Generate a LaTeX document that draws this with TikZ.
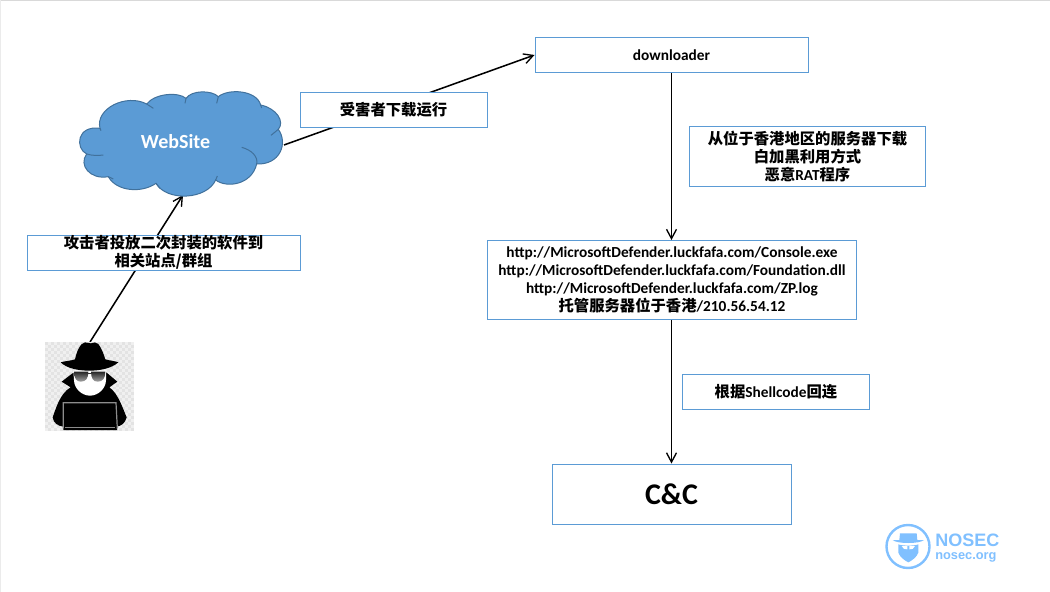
\documentclass[tikz,border=0pt]{standalone}
\usepackage{fontspec}
\setmainfont{Carlito}
\newfontfamily\cjk{Noto Sans CJK SC}
\newfontfamily\logofont{Liberation Sans}
\newcommand{\zh}[1]{{\cjk\bfseries #1}}
\definecolor{boxblue}{HTML}{5B9BD5}
\definecolor{cloudedge}{HTML}{41719C}
\definecolor{logoblue}{HTML}{80C0FF}
\tikzset{
  x=0.75pt,y=-0.75pt,
  lab/.style={draw=boxblue,line width=0.75pt,fill=white,inner sep=0pt,align=center,font=\fontsize{11.5pt}{13.5pt}\selectfont\bfseries},
  conn/.style={draw=black,line width=1.15pt,-{Straight Barb[length=7pt,width=7.5pt,line width=1pt]}},
  chk/.style={fill=black!11,draw=none}
}
\usetikzlibrary{arrows.meta}
\begin{document}
\begin{tikzpicture}
\useasboundingbox (0,0) rectangle (1050,592);
\fill[white] (0,0) rectangle (1050,592);
\draw[black!15,line width=1pt] (0,0.5) -- (1050,0.5);
\draw[black!8,line width=0.75pt] (0.5,0) -- (0.5,592);

% named anchors of connectors
\coordinate (hackertop) at (90,342);
\coordinate (cloudbottom) at (183,195);
\coordinate (cloudright) at (284,145);

\node[lab,minimum width=273pt*0.75,minimum height=35pt*0.75] (dl) at (671.5,55) {downloader};
\node[lab,minimum width=369pt*0.75,minimum height=79pt*0.75] (urls) at (672,280) {http://MicrosoftDefender.luckfafa.com/Console.exe\\http://MicrosoftDefender.luckfafa.com/Foundation.dll\\http://MicrosoftDefender.luckfafa.com/ZP.log\\\zh{托管服务器位于香港}/210.56.54.12};
\node[lab,minimum width=239pt*0.75,minimum height=60pt*0.75,font=\fontsize{22.5pt}{24pt}\selectfont\bfseries] (cc) at (671.5,494) {C\&C};

\draw[conn] (cloudright) -- (dl.west);
\draw[conn] (hackertop) -- (cloudbottom);
\draw[conn] (dl.south) -- (dl.south |- urls.north);
\draw[conn] (cc.north |- urls.south) -- (cc.north);

\node[lab,minimum width=273pt*0.75,minimum height=35pt*0.75] (l1) at (163.5,252.5) {\zh{攻击者投放二次封装的软件到}\\\zh{相关站点/群组}};
\node[lab,minimum width=187pt*0.75,minimum height=35pt*0.75] (l2) at (393.5,110) {\zh{受害者下载运行}};
\node[lab,minimum width=236pt*0.75,minimum height=60pt*0.75] (l3) at (807.5,156.5) {\zh{从位于香港地区的服务器下载}\\\zh{白加黑利用方式}\\\zh{恶意}RAT\zh{程序}};
\node[lab,minimum width=187pt*0.75,minimum height=35pt*0.75] (l4) at (776,391.5) {\zh{根据}Shellcode\zh{回连}};

% cloud
\begin{scope}[shift={(70,80)},x=0.25pt,y=-0.25pt]
\path[fill=boxblue,draw=cloudedge,line width=0.75pt] (90,145)
 .. controls (75,85) and (170,40) .. (230,72)
 .. controls (255,40) and (325,35) .. (348,55)
 .. controls (365,30) and (425,30) .. (445,50)
 .. controls (475,25) and (560,30) .. (572,75)
 .. controls (620,85) and (645,125) .. (625,148)
 .. controls (655,190) and (630,255) .. (560,252)
 .. controls (545,315) and (470,325) .. (437,300)
 .. controls (410,360) and (290,365) .. (258,310)
 .. controls (215,340) and (140,335) .. (115,290)
 .. controls (60,300) and (25,255) .. (50,222)
 .. controls (15,205) and (20,135) .. (90,145) -- cycle;
\draw[cloudedge,line width=0.75pt] (50,222) .. controls (65,227) and (85,227) .. (100,225);
\draw[cloudedge,line width=0.75pt] (115,290) -- (130,297);
\draw[cloudedge,line width=0.75pt] (258,310) -- (270,325);
\draw[cloudedge,line width=0.75pt] (437,300) -- (442,288);
\draw[cloudedge,line width=0.75pt] (515,202) .. controls (545,210) and (565,230) .. (560,252);
\draw[cloudedge,line width=0.75pt] (625,148) -- (603,166);
\draw[cloudedge,line width=0.75pt] (572,75) -- (575,84);
\draw[cloudedge,line width=0.75pt] (445,50) -- (440,70);
\draw[cloudedge,line width=0.75pt] (348,55) -- (345,70);
\draw[cloudedge,line width=0.75pt] (230,72) -- (250,85);
\draw[cloudedge,line width=0.75pt] (90,145) -- (93,152);
\end{scope}
\node[font=\fontsize{15pt}{18pt}\selectfont\bfseries,text=white,inner sep=0pt] (web) at (175.5,141.5) {WebSite};

% hacker icon
\fill[black!6] (45,342) rectangle (134,431);
\foreach \i in {0,...,29}{\foreach \j in {0,...,29}{
  \pgfmathparse{int(mod(\i+\j,2))}
  \ifnum\pgfmathresult=0 \fill[chk] ({45+\i*2.967},{342+\j*2.967}) rectangle +(2.967,2.967);\fi
}}
\begin{scope}[shift={(30,330)},x=0.25pt,y=-0.25pt]
 % coat
 \fill[black] (95,155) -- (130,128) -- (230,128) -- (262,155) -- (238,172)
   .. controls (265,190) and (280,240) .. (290,262)
   .. controls (285,280) and (275,288) .. (258,290) -- (262,300) -- (100,300) -- (100,290)
   .. controls (85,288) and (70,280) .. (68,262)
   .. controls (78,235) and (90,190) .. (122,172) -- cycle;
 % face
 \fill[white] (130,122) -- (228,122) -- (228,150)
   .. controls (228,175) and (205,197) .. (180,197)
   .. controls (155,197) and (132,175) .. (132,150) -- cycle;
 % hat
 \fill[black] (92,97) .. controls (110,92) and (125,92) .. (135,88)
   .. controls (140,65) and (150,40) .. (165,37)
   .. controls (175,36) and (178,42) .. (183,40)
   .. controls (190,36) and (200,36) .. (205,42)
   .. controls (215,55) and (222,75) .. (226,88)
   .. controls (240,92) and (255,93) .. (265,97)
   .. controls (245,115) and (210,122) .. (178,122)
   .. controls (145,122) and (110,115) .. (92,97) -- cycle;
 % glasses
 \shade[top color=black!85,bottom color=black!35] (132,125) -- (175,125) .. controls (175,145) and (168,155) .. (152,155) .. controls (140,155) and (132,145) .. (132,125) -- cycle;
 \shade[top color=black!85,bottom color=black!35] (183,125) -- (226,125) .. controls (226,145) and (218,155) .. (203,155) .. controls (190,155) and (183,145) .. (183,125) -- cycle;
 \draw[black!80,line width=1pt] (170,130) -- (188,130);
 % laptop
 \draw[black!45,line width=0.9pt,fill=black] (100,295) -- (100,218) -- (258,218) -- (262,295);
 \fill[black] (108,295) rectangle (250,301);
 \draw[black!45,line width=0.7pt] (106,293) -- (254,293);
\end{scope}

% NOSEC logo
\draw[logoblue,line width=1.8pt] (908,546.5) circle (21.5);
\begin{scope}[shift={(870,510)},x=0.25pt,y=-0.25pt]
 \fill[logoblue] (90,70) -- (140,70) -- (142,90) .. controls (150,90) and (155,92) .. (162,90)
   .. controls (150,102) and (80,102) .. (68,90) .. controls (75,92) and (80,90) .. (88,90) -- cycle;
 \fill[logoblue] (85,103) .. controls (95,108) and (135,108) .. (145,103) -- (145,128) .. controls (140,142) and (125,152) .. (115,157) .. controls (105,152) and (90,142) .. (85,128) -- cycle;
 \fill[white] (95,108) -- (112,108) -- (112,118) .. controls (105,120) and (98,116) .. (95,108) -- cycle;
 \fill[white] (118,108) -- (135,108) .. controls (132,116) and (125,120) .. (118,118) -- cycle;
\end{scope}
\node[font=\logofont\bfseries\fontsize{13.5pt}{14pt}\selectfont,text=logoblue,inner sep=0pt,anchor=base west] (nosec) at (935,546) {NOSEC};
\node[font=\logofont\bfseries\fontsize{9.6pt}{11pt}\selectfont,text=logoblue,inner sep=0pt,anchor=base west] (org) at (935,559) {nosec.org};
\end{tikzpicture}
\end{document}
